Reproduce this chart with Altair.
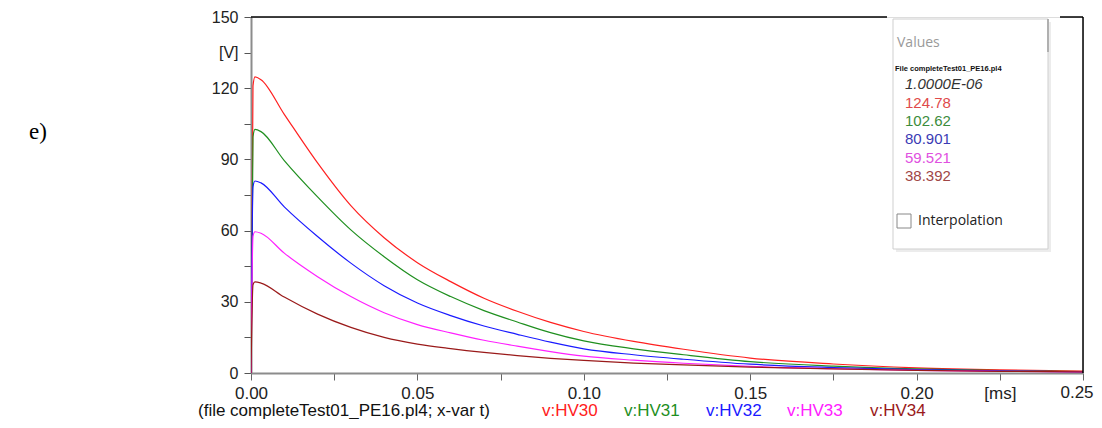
import altair as alt
import pandas as pd

# time in ms
t = [0.0, 0.0006, 0.0012, 0.003, 0.01, 0.02, 0.03, 0.04, 0.05, 0.06, 0.07, 0.08, 0.09, 0.1,
     0.115, 0.13, 0.15, 0.175, 0.2, 0.225, 0.25]
hv30 = [0, 121.0, 124.78, 123.6, 109.0, 88.5, 70.5, 57.0, 46.5, 38.5, 31.5, 26.0, 21.3, 17.5,
        13.3, 10.0, 6.3, 3.8, 2.2, 1.3, 0.8]
hv31 = [0, 99.5, 102.62, 101.7, 89.5, 74.2, 60.3, 49.0, 39.3, 32.2, 26.3, 21.5, 17.0, 13.5,
        10.2, 7.7, 4.8, 2.9, 1.7, 1.0, 0.6]
hv32 = [0, 78.5, 80.901, 80.1, 70.0, 57.5, 46.3, 36.8, 29.5, 24.2, 19.8, 16.3, 13.0, 10.2,
        7.7, 5.8, 3.7, 2.3, 1.4, 0.9, 0.5]
hv33 = [0, 57.7, 59.521, 58.9, 50.5, 40.6, 32.2, 25.4, 20.4, 16.9, 13.8, 11.3, 9.0, 7.1,
        5.4, 4.1, 2.8, 1.8, 1.1, 0.7, 0.5]
hv34 = [0, 37.2, 38.392, 37.9, 32.0, 24.8, 19.2, 15.0, 12.2, 10.3, 8.7, 7.35, 6.2, 5.3,
        4.2, 3.4, 2.5, 1.7, 1.1, 0.7, 0.5]

series_names = ["v:HV30", "v:HV31", "v:HV32", "v:HV33", "v:HV34"]
series_values = [hv30, hv31, hv32, hv33, hv34]
line_colors = ["#ff2020", "#1f8f1f", "#1a1aff", "#ff20ff", "#9a1a1a"]
value_colors = ["#e04a4a", "#3c8c3c", "#3a3ab4", "#e050e0", "#a04646"]
peak_labels = ["124.78", "102.62", "80.901", "59.521", "38.392"]
y_ticks = [0, 15, 30, 45, 60, 75, 90, 105, 120, 135, 150]
x_ticks = [0.0, 0.025, 0.05, 0.075, 0.1, 0.125, 0.15, 0.175, 0.2, 0.225, 0.25]

rows = []
for name, vals in zip(series_names, series_values):
    for ti, v in zip(t, vals):
        rows.append({"t": ti, "v": v, "s": name})
df = pd.DataFrame(rows)

FONT = "Liberation Sans"
W, H = 832, 356
X0, Y0 = 251, 17  # page coords of plot origin


def one():
    return alt.Chart(pd.DataFrame({"k": [0]}))


def txt(s, px, py, color="#000", size=16, align="left", font=FONT, style="normal", weight="normal"):
    return one().mark_text(
        align=align, baseline="middle", fontSize=size, font=font, color=color,
        fontStyle=style, fontWeight=weight
    ).encode(x=alt.value(px - X0), y=alt.value(py - Y0), text=alt.value(s))


def rule(x1, y1, x2, y2, color="#000", w=1.5):
    return one().mark_rule(color=color, strokeWidth=w).encode(
        x=alt.value(x1 - X0), x2=alt.value(x2 - X0), y=alt.value(y1 - Y0), y2=alt.value(y2 - Y0)
    )


lines = alt.Chart(df).mark_line(strokeWidth=1.2, interpolate="monotone", clip=True).encode(
    x=alt.X("t:Q", scale=alt.Scale(domain=[0, 0.25], nice=False, zero=False),
            axis=alt.Axis(values=x_ticks, title=None, grid=False,
                          labelExpr="round(datum.value*1000) == 225 ? '[ms]' : ((round(datum.value*1000) % 50 == 0 && round(datum.value*1000) < 250) ? format(datum.value, '.2f') : '')",
                          labelFlush=False, labelOverlap=False, labelFontSize=17, labelFont=FONT,
                          labelColor="#222", labelPadding=5, tickSize=7, tickColor="#666",
                          domainColor="#8c8c8c", domainWidth=2)),
    y=alt.Y("v:Q", scale=alt.Scale(domain=[0, 150], nice=False),
            axis=alt.Axis(values=y_ticks, title=None, grid=False,
                          labelExpr="datum.value == 135 ? '[V]' : (datum.value % 30 == 0 ? format(datum.value, 'd') : '')",
                          labelFlush=False, labelOverlap=False, labelFontSize=16, labelFont=FONT,
                          labelColor="#222", labelPadding=6, tickSize=7, tickColor="#555",
                          domainColor="#8c8c8c", domainWidth=2)),
    color=alt.Color("s:N", scale=alt.Scale(domain=series_names, range=line_colors), legend=None),
    detail="s:N",
)

layers = [lines]
# frame: top (with gap for values box) and right border
layers.append(rule(251, 17, 887, 17))
layers.append(rule(1060, 17, 1083, 17))
layers.append(rule(1083, 17, 1083, 373))
# last x tick label, kept inside the page edge
layers.append(txt("0.25", 1077, 393, color="#222", size=17, align="center"))

# values box (with faint shadow)
layers.append(one().mark_rect(fill="#ececec", stroke=None).encode(
    x=alt.value(896 - X0), x2=alt.value(1051 - X0), y=alt.value(22 - Y0), y2=alt.value(252 - Y0)))
layers.append(one().mark_rect(fill="white", stroke="#cfcfcf", strokeWidth=1).encode(
    x=alt.value(893 - X0), x2=alt.value(1048 - X0), y=alt.value(19 - Y0), y2=alt.value(249 - Y0)))
layers.append(rule(1048, 19, 1048, 52, color="#b0b0b0", w=2))
layers.append(txt("Values", 897, 43, color="#9a9a9a", size=14, font="Open Sans"))
layers.append(txt("File completeTest01_PE16.pl4", 895, 69, color="#111", size=7.5, weight="bold"))
layers.append(txt("1.0000E-06", 905, 84, color="#333", size=15, style="italic"))
for i, (lab, c) in enumerate(zip(peak_labels, value_colors)):
    layers.append(txt(lab, 905, 102.5 + i * 18.4, color=c, size=15))
layers.append(one().mark_rect(fill="white", stroke="#888", strokeWidth=1).encode(
    x=alt.value(897 - X0), x2=alt.value(911 - X0), y=alt.value(214 - Y0), y2=alt.value(228 - Y0)))
layers.append(txt("Interpolation", 918, 221, color="#222", size=14, font="Open Sans"))

# caption
layers.append(txt("(file completeTest01_PE16.pl4; x-var t)", 198, 411, color="#111", size=17))
cap_x = [542, 624, 706, 787, 870]
for name, c, cx in zip(series_names, line_colors, cap_x):
    layers.append(txt(name, cx, 411, color=c, size=17))

# panel label
layers.append(txt("e)", 38, 132, color="#000", size=23, align="center", font="Liberation Serif"))

chart = alt.layer(*layers).properties(
    width=W, height=H,
    autosize=alt.AutoSizeParams(type="none"),
    padding={"left": X0 - 8, "top": Y0 - 8, "right": 11, "bottom": 46},
).configure_view(stroke=None).configure(background="white")

chart.save("out.html", embed_options={"renderer": "svg", "actions": False})
